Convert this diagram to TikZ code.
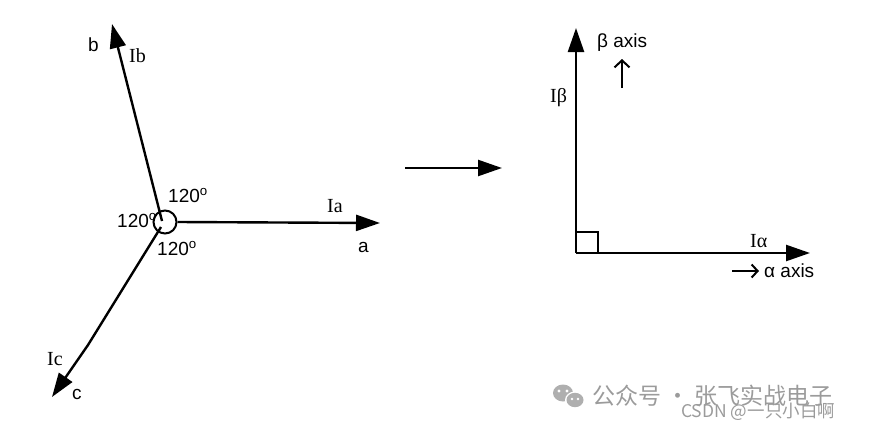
\documentclass[tikz,border=0pt]{standalone}
\usepackage{fontspec}
\setmainfont{Liberation Serif}
\setsansfont{Liberation Sans}
\newfontfamily\cjk{Noto Sans CJK SC}
\usetikzlibrary{arrows.meta}
\definecolor{wm}{RGB}{155,155,155}
\begin{document}
\begin{tikzpicture}[x=1pt,y=-1pt,
  vec/.style={line width=2.4pt,-{Triangle[length=24pt,width=16pt]}},
  thin/.style={line width=2pt},
  small/.style={line width=2pt,-{Straight Barb[length=7pt,width=15pt,line width=2pt]}},
  sflbl/.style={font=\fontsize{19}{19}\selectfont\sffamily, inner sep=0pt, anchor=base west},
  cur/.style={font=\fontsize{20}{20}\selectfont, inner sep=0pt, anchor=base west},
  wmtext/.style={text=wm, inner sep=0pt, anchor=west}
]
\useasboundingbox (0,0) rectangle (869,431);
% ---- left: three-phase ----
\coordinate (Otop) at (162,221);
\coordinate (Obot) at (161,227);
\node[draw, circle, line width=2pt, minimum size=23pt, inner sep=0pt] (ring) at (165,222) {};
\coordinate (Atip) at (380,223);
\coordinate (Btip) at (112,24);
\coordinate (Cbend) at (88,345);
\coordinate (Ctip) at (52,397);
\draw[vec] (ring.east) -- (Atip);
\draw[vec] (Otop) -- (Btip);
\draw[vec] (Obot) -- (Cbend) -- (Ctip);
\node[cur] (Ia) at (327,212) {Ia};
\node[sflbl] (a) at (358,252) {a};
\node[cur] (Ib) at (129,62) {Ib};
\node[sflbl] (b) at (88,51) {b};
\node[cur] (Ic) at (47,365) {Ic};
\node[sflbl] (c) at (72,399) {c};
\node[sflbl] (ang1) at (168,202) {120\textsuperscript{o}};
\node[sflbl] (ang2) at (117,227) {120\textsuperscript{o}};
\node[sflbl] (ang3) at (157,255) {120\textsuperscript{o}};
% ---- middle arrow ----
\coordinate (M1) at (405,168);
\coordinate (M2) at (502,168);
\draw[vec] (M1) -- (M2);
% ---- right: alpha-beta ----
\coordinate (P) at (576,253);
\coordinate (Btop) at (576,28);
\coordinate (Aright) at (810,253);
\draw[vec] (P) -- (Btop);
\draw[vec] (P) -- (Aright);
\draw[thin] (576,232) -- (598,232) -- (598,253);
\node[cur] (Ibeta) at (550,102) {Iβ};
\node[sflbl] (baxis) at (597,47) {β axis};
\coordinate (bs1) at (622,88);
\coordinate (bs2) at (622,59);
\draw[small] (bs1) -- (bs2);
\node[cur] (Ialpha) at (750,247) {Iα};
\coordinate (as1) at (732,271);
\coordinate (as2) at (759,271);
\draw[small, -{Straight Barb[length=6pt,width=13pt,line width=2pt]}] (as1) -- (as2);
\node[sflbl] (aaxis) at (764,277) {α axis};
% ---- watermark ----
\begin{scope}
\fill[wm!80] (563,393) ellipse[x radius=10pt, y radius=8.5pt];
\fill[white] (575,400) ellipse[x radius=10pt, y radius=8.5pt];
\fill[wm!80] (575,400) ellipse[x radius=8.5pt, y radius=7.2pt];
\fill[white] (559,391) circle[radius=1.6pt] (567,391) circle[radius=1.6pt]
  (572,399) circle[radius=1.3pt] (578,399) circle[radius=1.3pt];
\end{scope}
\node[wmtext, font=\cjk\fontsize{23}{23}\selectfont] (wm1) at (592,396) {公众号 · 张飞实战电子};
\node[wmtext, font=\cjk\fontsize{17.5}{17.5}\selectfont] (wm2) at (681,412) {CSDN @一只小白啊};
\end{tikzpicture}
\end{document}
